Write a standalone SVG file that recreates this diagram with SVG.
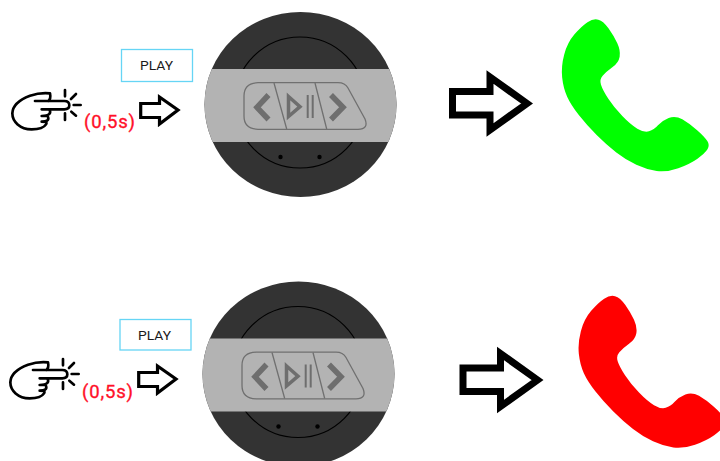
<svg xmlns="http://www.w3.org/2000/svg" width="720" height="461" viewBox="0 0 720 461">
<style>
.lbl{font-family:"Roboto","Liberation Sans",sans-serif;font-size:12.5px;font-weight:400;fill:#1a1a1a}
.time{font-family:"Roboto","Liberation Sans",sans-serif;font-size:18.5px;font-weight:400;fill:#ff1028;stroke:#ff1028;stroke-width:.35}
.box{fill:#fff;stroke:#66d5f5;stroke-width:1.3}
.arrow{fill:#fff;stroke:#000;stroke-miterlimit:10}
.ln{fill:none;stroke:#000;stroke-width:8;stroke-linecap:round;stroke-linejoin:round}
.btn{fill:none;stroke:#707070;stroke-width:1.3}
.ic{fill:none;stroke:#6e6e6e}
</style>
<defs>
<clipPath id="disc"><ellipse cx="300.5" cy="104.5" rx="96" ry="92.5"/></clipPath>
<g id="device">
<ellipse cx="300.5" cy="104.5" rx="96" ry="92.5" fill="#333"/>
<circle cx="300" cy="102.5" r="65.5" fill="none" stroke="#000" stroke-width="1.2"/>
<rect x="200" y="69" width="202" height="73" fill="#b3b3b3" clip-path="url(#disc)"/>
<circle cx="280.5" cy="157" r="2.2" fill="#000"/>
<circle cx="319.5" cy="157" r="2.2" fill="#000"/>
<path class="btn" d="M258 82.7H338Q345 82.7 348 88L365 119Q369 129 358 129.3H258Q244 129 244 116V96Q244 83 258 82.7Z"/>
<path class="btn" d="M274 83L286.7 129M315 83L326.7 129"/>
<path class="ic" stroke-width="5.5" d="M268.5 95L257 107.3L268.5 119.5M331 95L343 107.3L331 119.5"/>
<path class="ic" stroke-width="3.5" d="M288.5 96.5L300 106.7L288.5 116.5Z"/>
<path class="ic" stroke-width="2" d="M307.7 95V118M312.7 95V118"/>
</g>
<path id="phone" transform="translate(440 10) scale(.3333)" d="M442.5 36.5Q460 25 475 29Q490 33 506 55.5Q522 78 532 100Q542 122 539 140Q536 158 517 172Q498 186 488 197Q478 208 483 224Q488 240 505 266Q522 292 547 318Q572 344 592 356Q612 368 627 364Q642 360 654 346Q666 332 686 324Q706 316 727 328Q748 340 771.5 361Q795 382 802.5 394Q810 406 802.5 418Q795 430 772.5 446Q750 462 715 474.5Q680 487 650 483Q620 479 589 464.5Q558 450 529 427.5Q500 405 470 375Q440 345 416.5 315Q393 285 381.5 260Q370 235 366.5 202.5Q363 170 372.5 134Q382 98 403.5 73Q425 48 442.5 36.5Z"/>
<path id="bigarrow" class="arrow" stroke-width="7" d="M452.5 91.5H490V77L527 103.5L490 130V115H452.5Z"/>
<path id="smallarrow" class="arrow" stroke-width="3.2" d="M140.7 103.5H159.5V97L178 110L159.5 124V117.5H140.7Z"/>
<g id="hand" transform="translate(0 30) scale(.3333)">
<path class="ln" d="M105 213H193C203 213 208 219 208 226C208 233 203 238 193 238H125M150 190C152 200 152 208 145 213M150 190C130 188 105 192 90 197C55 210 38 225 37 250C37 275 60 298 95 298C115 298 130 296 138 283C142 276 138 275 125 275M125 258H143C148 268 144 275 125 275M125 238H148C154 248 150 258 125 258"/>
<path class="ln" stroke-width="6" d="M195 180V199M228 192L213 207M242 225H221M228 257L214 245M195 250V270"/>
</g>
</defs>
<g id="connectors">
<use href="#smallarrow"/>
<use href="#bigarrow"/>
<use href="#smallarrow" transform="translate(-2 269)"/>
<use href="#bigarrow" transform="translate(10.5 276.5)"/>
</g>
<g id="play-top"><rect class="box" x="121.5" y="49.5" width="71" height="32"/><text class="lbl" x="140" y="70" textLength="33" lengthAdjust="spacingAndGlyphs">PLAY</text></g>
<g id="hand-top"><use href="#hand"/><text class="time" x="84" y="128" textLength="51" lengthAdjust="spacing">(0,5s)</text></g>
<g id="device-top"><use href="#device"/></g>
<g id="phone-green"><use href="#phone" fill="#00ff00"/></g>
<g id="device-bottom"><use href="#device" transform="translate(-2 269.5)"/></g>
<g id="play-bottom"><rect class="box" x="120" y="319.5" width="71" height="30.5"/><text class="lbl" x="138" y="340" textLength="33" lengthAdjust="spacingAndGlyphs">PLAY</text></g>
<g id="hand-bottom"><use href="#hand" transform="translate(-2 269)"/><text class="time" x="82" y="398" textLength="51" lengthAdjust="spacing">(0,5s)</text></g>
<g id="phone-red"><use href="#phone" fill="#ff0000" transform="translate(16.7 276.5)"/></g>
</svg>
